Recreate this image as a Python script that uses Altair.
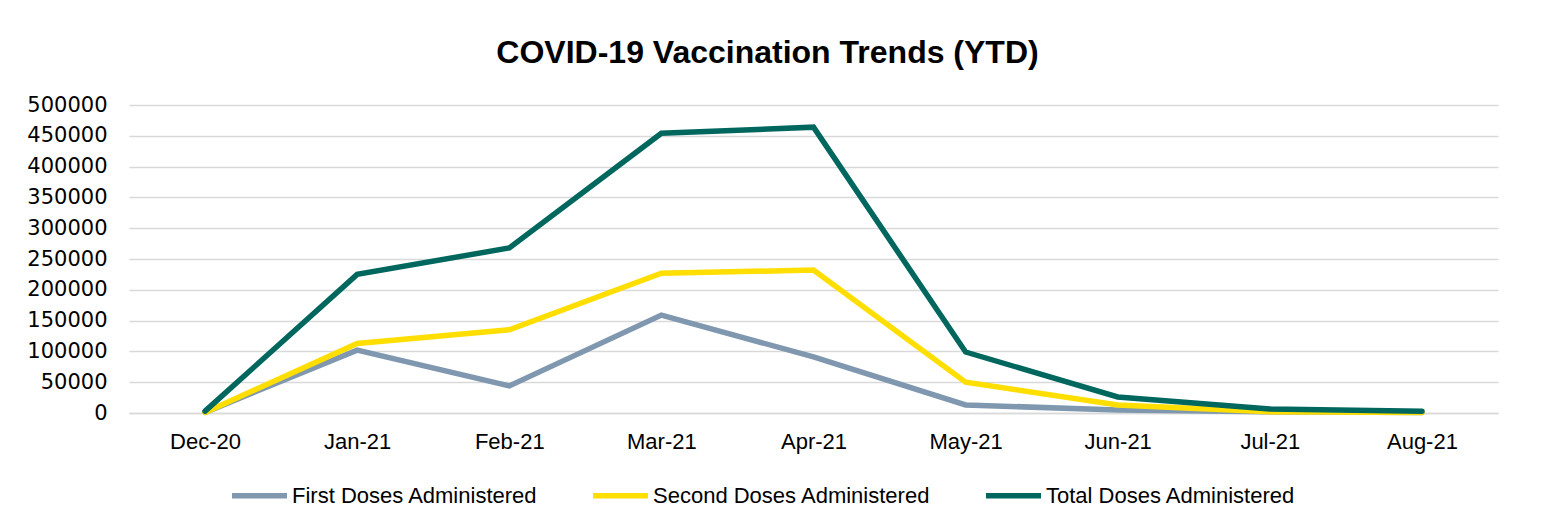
import altair as alt
import pandas as pd

months = ["Dec-20", "Jan-21", "Feb-21", "Mar-21", "Apr-21", "May-21", "Jun-21", "Jul-21", "Aug-21"]
first_doses = [1000, 102000, 44000, 159000, 91000, 13000, 5000, 2000, 1000]
second_doses = [1000, 113000, 135000, 227000, 232000, 50000, 13000, 2000, 1000]
total_doses = [3000, 225000, 268000, 454000, 464000, 99000, 26000, 6500, 3000]

series_names = ["First Doses Administered", "Second Doses Administered", "Total Doses Administered"]
series_colors = ["#7F98AF", "#FFDE00", "#00675F"]

rows = []
for name, vals in zip(series_names, [first_doses, second_doses, total_doses]):
    for m, v in zip(months, vals):
        rows.append({"Month": m, "Series": name, "Value": v})
df = pd.DataFrame(rows)

FONT = "Liberation Sans"

chart = alt.Chart(df).mark_line(strokeWidth=5.5, strokeCap="round", strokeJoin="miter").encode(
    x=alt.X("Month:N", sort=months, scale=alt.Scale(type="point", padding=0.5),
            axis=alt.Axis(title=None, labelAngle=0, ticks=False, domain=True, domainColor="#D9D9D9",
                          domainWidth=1.5, labelPadding=18, labelFontSize=22, labelFont=FONT,
                          labelColor="#000000", grid=False)),
    y=alt.Y("Value:Q", scale=alt.Scale(domain=[0, 500000], nice=False),
            axis=alt.Axis(title=None, values=list(range(0, 500001, 50000)), format="d", ticks=False,
                          domain=False, labelPadding=22, labelFontSize=21, labelFont="DejaVu Sans",
                          labelColor="#000000", grid=True, gridColor="#D9D9D9", gridWidth=1.5)),
    color=alt.Color("Series:N", sort=series_names,
                    scale=alt.Scale(domain=series_names, range=series_colors),
                    legend=alt.Legend(title=None, orient="none", legendX=100, legendY=360,
                                      direction="horizontal", columns=3, symbolType="stroke",
                                      symbolSize=3025, symbolStrokeWidth=5.5, labelFontSize=22,
                                      labelFont=FONT, labelColor="#000000", labelOffset=2,
                                      columnPadding=44, labelLimit=400)),
    order=alt.Order("Series:N"),
).properties(
    width=1369,
    height=308,
    padding={"left": 121, "top": 97, "right": 38, "bottom": 106},
    autosize=alt.AutoSizeParams(type="none"),
    title=alt.TitleParams("COVID-19 Vaccination Trends (YTD)", font=FONT, fontSize=32,
                          fontWeight="bold", color="#000000", anchor="middle", dx=-46, offset=24),
).configure_view(stroke=None)

chart.save("out.html", embed_options={"renderer": "svg", "actions": False})
